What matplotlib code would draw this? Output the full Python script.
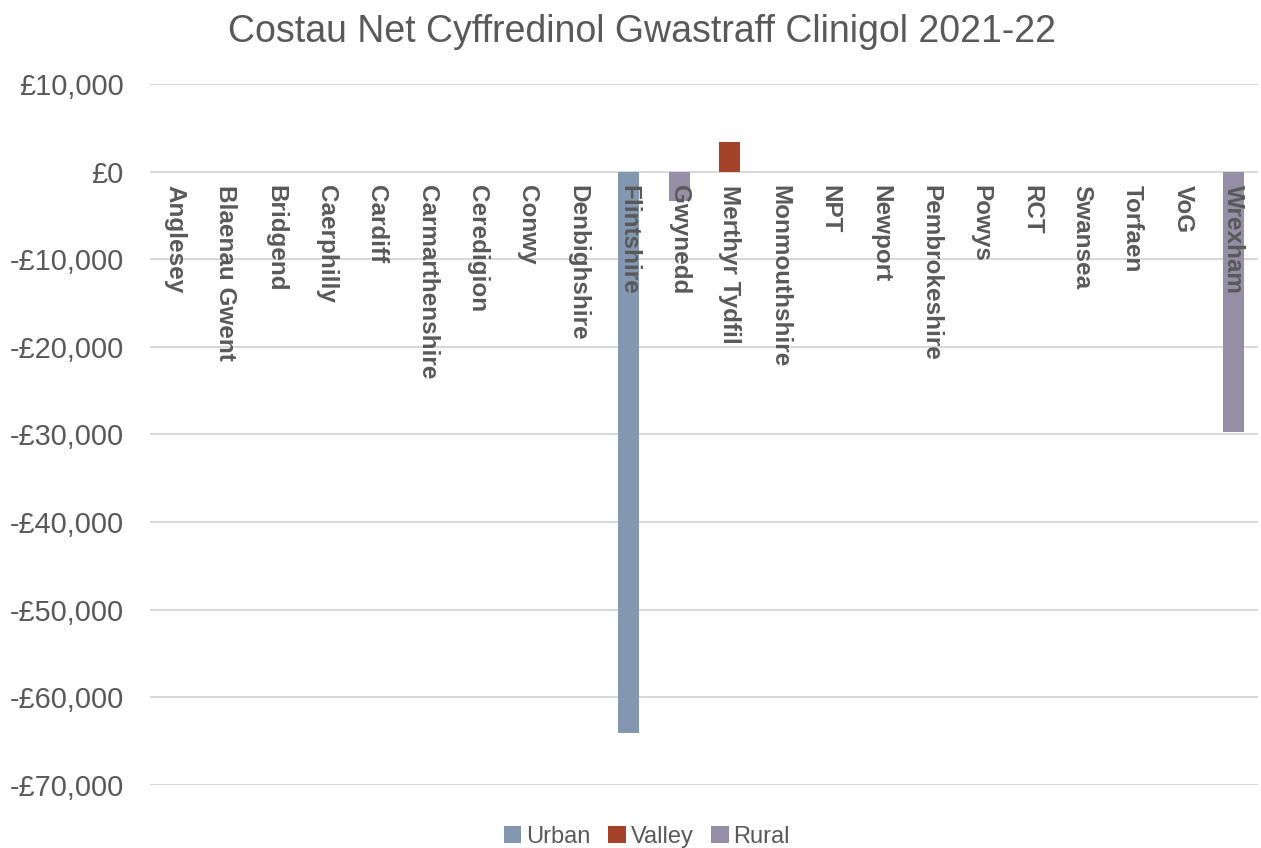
import numpy as np
import matplotlib.pyplot as plt
from matplotlib.ticker import FuncFormatter

plt.rcParams['font.family'] = ['Liberation Sans', 'DejaVu Sans']

areas = ['Anglesey', 'Blaenau Gwent', 'Bridgend', 'Caerphilly', 'Cardiff',
         'Carmarthenshire', 'Ceredigion', 'Conwy', 'Denbighshire', 'Flintshire',
         'Gwynedd', 'Merthyr Tydfil', 'Monmouthshire', 'NPT', 'Newport',
         'Pembrokeshire', 'Powys', 'RCT', 'Swansea', 'Torfaen', 'VoG', 'Wrexham']
urban = [0, 0, 0, 0, 0, 0, 0, 0, 0, -64100, 0, 0, 0, 0, 0, 0, 0, 0, 0, 0, 0, 0]
valley = [0, 0, 0, 0, 0, 0, 0, 0, 0, 0, 0, 3400, 0, 0, 0, 0, 0, 0, 0, 0, 0, 0]
rural = [0, 0, 0, 0, 0, 0, 0, 0, 0, 0, -3400, 0, 0, 0, 0, 0, 0, 0, 0, 0, 0, -29750]

txt = '#595959'
fig, ax = plt.subplots(figsize=(12.61, 8.48), dpi=100)
fig.subplots_adjust(left=0.119, right=0.998, top=0.901, bottom=0.0743)

x = np.arange(len(areas))
w = 0.415
ax.bar(x, urban, w, color='#8497B0', label='Urban', zorder=3)
ax.bar(x, valley, w, color='#A5432A', label='Valley', zorder=3)
ax.bar(x, rural, w, color='#948EA6', label='Rural', zorder=3)

ax.set_ylim(-70000, 10000)
ax.set_xlim(-0.5, len(areas) - 0.5)
ax.set_yticks(np.arange(-70000, 10001, 10000))
ax.yaxis.set_major_formatter(FuncFormatter(
    lambda v, p: ('-£{:,.0f}' if v < 0 else '£{:,.0f}').format(abs(v))))
for v in ax.get_yticks():
    ax.axhline(v, color='#D9D9D9', lw=1.5, zorder=1)

for s in ax.spines.values():
    s.set_visible(False)
ax.spines['bottom'].set_position(('data', 0))
ax.set_xticks(x)
ax.set_xticklabels(areas, rotation=-90, fontsize=17.5, fontweight='bold', color=txt)
ax.xaxis.set_zorder(5)
ax.tick_params(axis='x', length=0, pad=10)
ax.tick_params(axis='y', length=0, pad=19, labelsize=20.8, labelcolor=txt)

fig.suptitle('Costau Net Cyffredinol Gwastraff Clinigol 2021-22', fontsize=27,
             color=txt, x=0.509, y=0.983)
fig.legend(*ax.get_legend_handles_labels(), loc='center', bbox_to_anchor=(0.513, 0.013),
           ncol=3, frameon=False, fontsize=17, labelcolor=txt, handlelength=0.75,
           handleheight=0.75, handletextpad=0.2, columnspacing=0.75)

plt.savefig('out.png', dpi=100)
